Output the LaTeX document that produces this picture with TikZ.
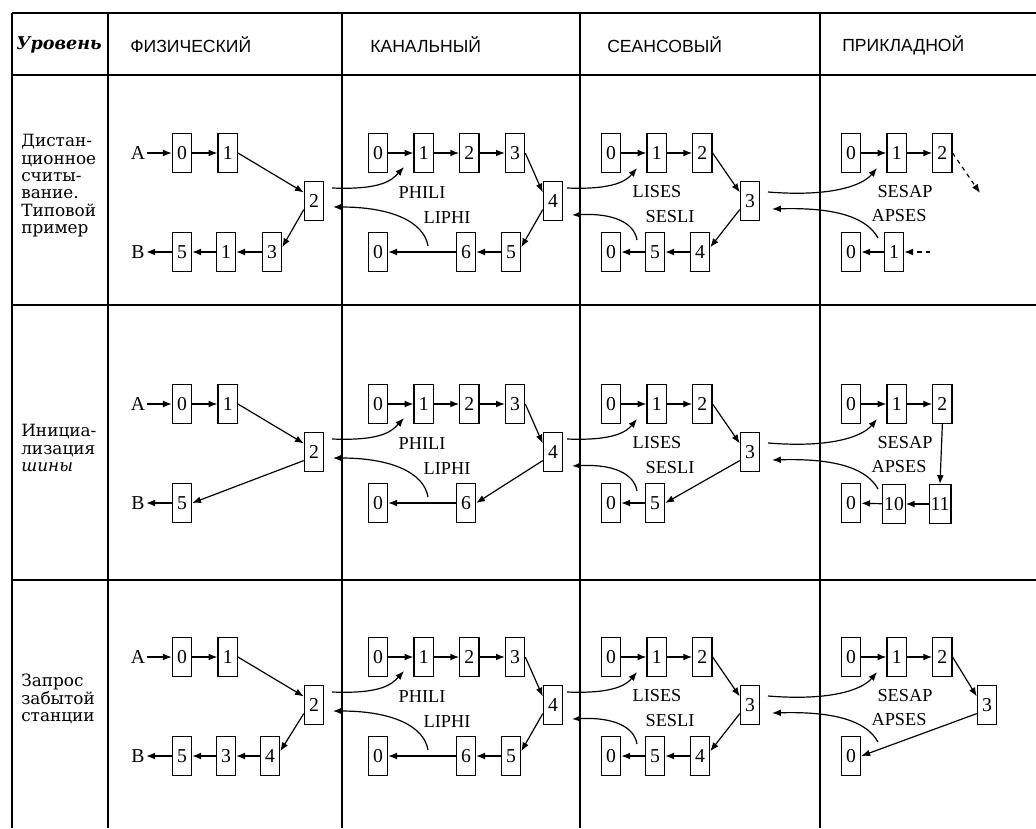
\documentclass[tikz,border=0pt]{standalone}
\usepackage{fontspec}
\setmainfont{Liberation Serif}
\newfontfamily\headfont{Liberation Sans}
\newfontfamily\rowfont{DejaVu Serif}
\usetikzlibrary{arrows.meta,positioning}
\tikzset{
  box/.style={draw, line width=0.9pt, minimum width=0.48cm, minimum height=0.97cm,
              inner sep=1pt, font=\fontsize{14}{15}\selectfont},
  pt/.style={inner sep=1pt, font=\fontsize{14}{15}\selectfont},
  link/.style={-{Latex[length=2.2mm,width=1.7mm]}, line width=0.85pt},
  dlink/.style={link, dashed},
  tag/.style={inner sep=0pt, font=\fontsize{13}{14}\selectfont},
  head/.style={anchor=west, inner sep=0pt, font=\headfont\fontsize{12.5}{13}\selectfont},
  rowlab/.style={anchor=north west, align=left, inner sep=0pt, font=\rowfont\fontsize{12}{12.4}\selectfont},
  rule/.style={line width=1.1pt},
}
\begin{document}
\begin{tikzpicture}[x=0.025cm, y=-0.025cm, node distance=0.63cm]
\useasboundingbox (0,0) rectangle (1036,828);

% table
\foreach \y in {13,75,305,580}
  \draw[rule] (12,\y) -- (1036,\y);
\foreach \x in {12,108,342,580,820}
  \draw[rule] (\x,13) -- (\x,828);

% header
\node[anchor=west, inner sep=0pt, font=\rowfont\bfseries\itshape\fontsize{12.5}{13}\selectfont] (lvl) at (16,45) {Уровень};
\node[head] (hphy) at (130,45) {ФИЗИЧЕСКИЙ};
\node[head] (hlnk) at (370,45) {КАНАЛЬНЫЙ};
\node[head] (hses) at (607,45) {СЕАНСОВЫЙ};
\node[head] (happ) at (842,45) {ПРИКЛАДНОЙ};

% row titles
\node[rowlab] (ta) at (21,134) {Дистан-\\ционное\\считы-\\вание.\\Типовой\\пример};
\node[rowlab] (tb) at (21,424) {Инициа-\\лизация\\\textit{шины}};
\node[rowlab] (tc) at (21,674) {Запрос\\забытой\\станции};

% parts shared by the three rows
\foreach \rr/\dy in {a/0, b/251, c/504} {
\begin{scope}[shift={(0,\dy)}]
  % physical
  \node[pt] (\rr A) at (138,153) {A};
  \node[box] (\rr p0) at (182,153) {0};
  \node[box, right=of \rr p0] (\rr p1) {1};
  \node[box] (\rr p2) at (314,201) {2};
  \node[pt] (\rr B) at (138,252) {B};
  \node[box] (\rr p5) at (182,252) {5};
  % link
  \node[box] (\rr k0) at (378,153) {0};
  \node[box, right=of \rr k0] (\rr k1) {1};
  \node[box, right=of \rr k1] (\rr k2) {2};
  \node[box, right=of \rr k2] (\rr k3) {3};
  \node[box] (\rr k4) at (553,201) {4};
  \node[box] (\rr k6) at (466,252) {6};
  \node[box] (\rr kz) at (378,252) {0};
  % session
  \node[box] (\rr s0) at (611,153) {0};
  \node[box, right=of \rr s0] (\rr s1) {1};
  \node[box, right=of \rr s1] (\rr s2) {2};
  \node[box] (\rr s3) at (750,201) {3};
  \node[box] (\rr s5) at (655,252) {5};
  \node[box] (\rr sz) at (611,252) {0};
  % application
  \node[box] (\rr a0) at (851,153) {0};
  \node[box, right=of \rr a0] (\rr a1) {1};
  \node[box, right=of \rr a1] (\rr a2) {2};
  \node[box] (\rr az) at (851,252) {0};

  \foreach \u/\v in {A/p0, p0/p1, p5/B, k0/k1, k1/k2, k2/k3, k6/kz, s0/s1, s1/s2, s5/sz, a0/a1, a1/a2}
    \draw[link] (\rr\u) -- (\rr\v);
  \draw[link] (\rr p1.east) -- (\rr p2.140);
  \draw[link] (\rr k3.east) -- (\rr k4.140);
  \draw[link] (\rr s2.east) -- (\rr s3.140);

  % service primitives between layers
  \coordinate (\rr phA) at (332,188);  \coordinate (\rr phB) at (404,167);
  \coordinate (\rr lpA) at (428,246);  \coordinate (\rr lpB) at (333,207);
  \coordinate (\rr lsA) at (567,188);  \coordinate (\rr lsB) at (637,168);
  \coordinate (\rr slA) at (637,240);  \coordinate (\rr slB) at (572,215);
  \coordinate (\rr saA) at (768,192);  \coordinate (\rr saB) at (877,168);
  \coordinate (\rr asA) at (878,238);  \coordinate (\rr asB) at (772,209);
  \draw[link] (\rr phA) .. controls (382,190) and (392,180) .. (\rr phB);
  \draw[link] (\rr lpA) .. controls (424,222) and (392,207) .. (\rr lpB);
  \draw[link] (\rr lsA) .. controls (615,190) and (627,180) .. (\rr lsB);
  \draw[link] (\rr slA) .. controls (634,222) and (612,213) .. (\rr slB);
  \draw[link] (\rr saA) .. controls (830,197) and (862,186) .. (\rr saB);
  \draw[link] (\rr asA) .. controls (868,220) and (842,207) .. (\rr asB);
  \node[tag] (\rr phili) at (422,193) {PHILI};
  \node[tag] (\rr liphi) at (447,218) {LIPHI};
  \node[tag] (\rr lises) at (657,192) {LISES};
  \node[tag] (\rr sesli) at (670,217) {SESLI};
  \node[tag] (\rr sesap) at (905,192) {SESAP};
  \node[tag] (\rr apses) at (899,216) {APSES};
\end{scope}
}

% row a: remote reading
\node[box] (ap3) at (272,252) {3};
\node[box] (ap1b) at (226,252) {1};
\node[box] (ak5) at (511,252) {5};
\node[box] (as4) at (700,252) {4};
\node[box] (aa1b) at (894,252) {1};
\coordinate (aout) at (980,193);
\coordinate (ain) at (930,252);
\draw[link] (ap2.220) -- (ap3.25);
\draw[link] (ak4.220) -- (ak5.25);
\draw[link] (as3.220) -- (as4.25);
\foreach \u/\v in {ap3/ap1b, ap1b/ap5, ak5/ak6, as4/as5, aa1b/aaz}
  \draw[link] (\u) -- (\v);
\draw[dlink] (aa2.east) -- (aout);
\draw[dlink] (ain) -- (aa1b);

% row b: bus initialisation
\node[box] (ba11) at (940,504) {11};
\node[box] (ba10) at (894,504) {10};
\draw[link] (bp2.220) -- (bp5.east);
\draw[link] (bk4.220) -- (bk6.east);
\draw[link] (bs3.220) -- (bs5.east);
\foreach \u/\v in {ba11/ba10, ba10/baz}
  \draw[link] (\u) -- (\v);
\draw[link] (ba2.south) -- (ba11.north);

% row c: forgotten station
\node[box] (cp4) at (270,756) {4};
\node[box] (cp3) at (226,756) {3};
\node[box] (ck5) at (511,756) {5};
\node[box] (cs4) at (700,756) {4};
\node[box] (ca3) at (987,705) {3};
\draw[link] (cp2.220) -- (cp4.25);
\draw[link] (ck4.220) -- (ck5.25);
\draw[link] (cs3.220) -- (cs4.25);
\foreach \u/\v in {cp4/cp3, cp3/cp5, ck5/ck6, cs4/cs5}
  \draw[link] (\u) -- (\v);
\draw[link] (ca2.east) -- (ca3.140);
\draw[link] (ca3.220) -- (caz.east);
\end{tikzpicture}
\end{document}
